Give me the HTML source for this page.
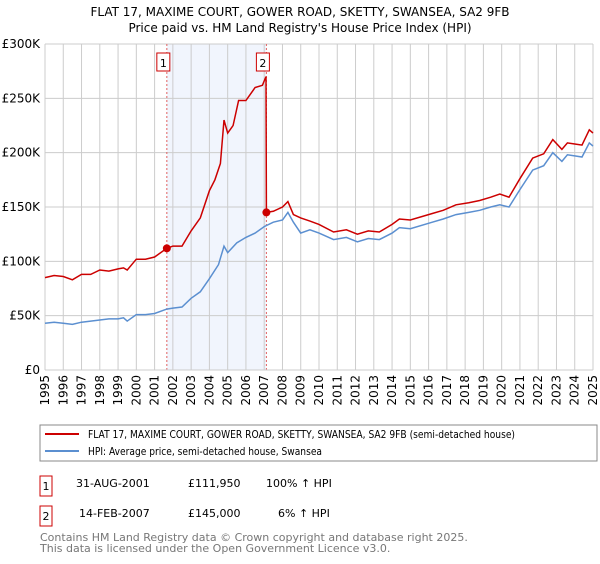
<!DOCTYPE html>
<html><head><meta charset="utf-8"><style>
body{margin:0;background:#fff;font-family:"DejaVu Sans","Liberation Sans",sans-serif;}
svg text{font-family:"DejaVu Sans","Liberation Sans",sans-serif;}
</style></head><body>
<svg id="c" width="600" height="560" xmlns="http://www.w3.org/2000/svg">
<text x="300" y="16" text-anchor="middle" font-size="12">FLAT 17, MAXIME COURT, GOWER ROAD, SKETTY, SWANSEA, SA2 9FB</text>
<text x="300" y="32" text-anchor="middle" font-size="12">Price paid vs. HM Land Registry's House Price Index (HPI)</text>
<g id="plot"></g>
<rect x="40" y="425" width="557" height="36" fill="#fff" stroke="#888"/>
<line x1="45" y1="434" x2="79" y2="434" stroke="#cc0000" stroke-width="2"/>
<text x="88" y="438" font-size="11" textLength="427" lengthAdjust="spacingAndGlyphs">FLAT 17, MAXIME COURT, GOWER ROAD, SKETTY, SWANSEA, SA2 9FB (semi-detached house)</text>
<line x1="45" y1="451" x2="79" y2="451" stroke="#5b8fd0" stroke-width="2"/>
<text x="88" y="455" font-size="11" textLength="234" lengthAdjust="spacingAndGlyphs">HPI: Average price, semi-detached house, Swansea</text>
<g>
<rect x="40" y="476" width="12" height="20" fill="#fff" stroke="#cc0000"/>
<text x="46" y="490" font-size="11" text-anchor="middle">1</text>
<text x="76" y="487" font-size="11">31-AUG-2001</text>
<text x="188" y="487" font-size="11">£111,950</text>
<text x="266" y="487" font-size="11">100% ↑ HPI</text>
</g>
<g>
<rect x="40" y="506" width="12" height="20" fill="#fff" stroke="#cc0000"/>
<text x="46" y="520" font-size="11" text-anchor="middle">2</text>
<text x="79" y="517" font-size="11">14-FEB-2007</text>
<text x="188" y="517" font-size="11">£145,000</text>
<text x="278" y="517" font-size="11">6% ↑ HPI</text>
</g>
<text x="40" y="541" font-size="11" fill="#777">Contains HM Land Registry data © Crown copyright and database right 2025.</text>
<text x="40" y="552" font-size="11" fill="#777">This data is licensed under the Open Government Licence v3.0.</text>
</svg>
<script>
const hpiDates=[1995,1995.5,1996,1996.5,1997,1997.5,1998,1998.5,1999,1999.3,1999.5,2000,2000.5,2001,2001.67,2002,2002.5,2003,2003.5,2004,2004.5,2004.8,2005,2005.5,2006,2006.5,2007,2007.5,2008,2008.3,2008.6,2009,2009.5,2010,2010.8,2011.5,2012.1,2012.7,2013.3,2014,2014.4,2015,2016.2,2016.8,2017.5,2018.2,2018.8,2019.4,2019.9,2020.4,2021,2021.7,2022.3,2022.8,2023.3,2023.6,2024,2024.4,2024.8,2025];
const hpiValues=[43,44,43,42,44,45,46,47,47,48,45,51,51,52,56,57,58,66,72,84,97,114,108,117,122,126,132,136,138,145,136,126,129,126,120,122,118,121,120,126,131,130,136,139,143,145,147,150,152,150,166,184,188,200,192,198,197,196,209,206];
const priceDates=[1995,1995.5,1996,1996.5,1997,1997.5,1998,1998.5,1999,1999.3,1999.5,2000,2000.5,2001,2001.67,2002,2002.5,2003,2003.5,2004,2004.3,2004.6,2004.8,2005,2005.3,2005.6,2006,2006.5,2006.9,2007.1,2007.12,2007.5,2008,2008.3,2008.6,2009,2009.5,2010,2010.8,2011.5,2012.1,2012.7,2013.3,2014,2014.4,2015,2016.2,2016.8,2017.5,2018.2,2018.8,2019.4,2019.9,2020.4,2021,2021.7,2022.3,2022.8,2023.3,2023.6,2024,2024.4,2024.8,2025];
const priceValues=[85,87,86,83,88,88,92,91,93,94,92,102,102,104,112,114,114,128,140,165,175,190,230,218,225,248,248,260,262,270,145,146,150,155,143,140,137,134,127,129,125,128,127,134,139,138,144,147,152,154,156,159,162,159,176,195,199,212,203,209,208,207,221,218];
const sales=[{n:'1',d:2001.67,v:111.95},{n:'2',d:2007.12,v:145}];
const yTicks=[0,50,100,150,200,250,300];
const yLabels=['£0','£50K','£100K','£150K','£200K','£250K','£300K'];
const xYears=[1995,1996,1997,1998,1999,2000,2001,2002,2003,2004,2005,2006,2007,2008,2009,2010,2011,2012,2013,2014,2015,2016,2017,2018,2019,2020,2021,2022,2023,2024,2025];

const NS='http://www.w3.org/2000/svg';
const X0=45,X1=593,Y0=370,Y1=44;
const sx=d=>X0+(d-1995)/30*(X1-X0);
const sy=v=>Y0-v/300*(Y0-Y1);
const g=document.getElementById('plot');
function mk(t,a,p){const e=document.createElementNS(NS,t);for(const k in a)e.setAttribute(k,a[k]);(p||g).appendChild(e);return e;}
let sh=mk('rect',{x:sx(sales[0].d),y:Y1,width:sx(sales[1].d)-sx(sales[0].d),height:Y0-Y1,fill:'#eef3fc',opacity:0.8});


yTicks.forEach((t,i)=>{
  let l=mk('line',{x1:X0,x2:X1,y1:sy(t),y2:sy(t),stroke:'#ccc'});
  
  
  let tx=mk('text',{x:X0-5,y:sy(t)+4,'text-anchor':'end','font-size':12});
  tx.textContent=yLabels[i];
  
  
});
xYears.forEach(y=>{
  let l=mk('line',{x1:sx(y),x2:sx(y),y1:Y1,y2:Y0,stroke:'#ccc'});
  
  
  let tx=mk('text',{x:0,y:0,'font-size':12,'text-anchor':'end',transform:`translate(${sx(y)+4},${Y0+5}) rotate(-90)`});
  tx.textContent=String(y);
  
  
});
sales.forEach(s=>{
  let l=mk('line',{x1:sx(s.d),x2:sx(s.d),y1:Y1,y2:Y0,stroke:'#e06060','stroke-dasharray':'2,2'});
  
  
});
function path(ds,vs,col,name){
  let d=ds.map((x,i)=>(i?'L':'M')+sx(x).toFixed(1)+','+sy(vs[i]).toFixed(1)).join('');
  let p=mk('path',{d:d,fill:'none',stroke:col,'stroke-width':1.5});
  
  
}
path(hpiDates,hpiValues,'#5b8fd0','hpi-line');
path(priceDates,priceValues,'#cc0000','price-line');
sales.forEach(s=>{
  let c=mk('circle',{cx:sx(s.d),cy:sy(s.v),r:4,fill:'#cc0000'});
  
  
  let b=mk('rect',{x:sx(s.d)-10,y:53,width:13,height:18,fill:'#fff',stroke:'#cc0000'});
  
  
  let t=mk('text',{x:sx(s.d)-3.5,y:67,'font-size':11,'text-anchor':'middle'});
  t.textContent=s.n;
  
  
});
let ax=mk('line',{x1:X0,x2:X1,y1:Y0,y2:Y0,stroke:'#ccc'});


</script>
</body></html>
